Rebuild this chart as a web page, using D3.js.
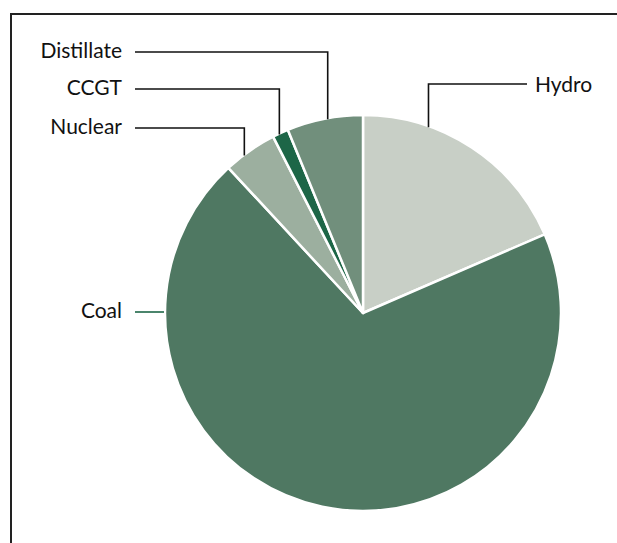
<!DOCTYPE html>
<html>
  <head>
    <meta charset="utf-8" />
    <script src="https://d3js.org/d3.v7.min.js"></script>
    <style>
      body { margin: 0; background: #fff; overflow: hidden; }
      text { font-family: Lato, "Open Sans", sans-serif; font-size: 21px; fill: #111; }
    </style>
  </head>
  <body>
    <div id="chart"></div>
    <script>
      // generation share, clockwise from 12 o'clock
      var sources = ["Hydro", "Coal", "Nuclear", "CCGT", "Distillate"];
      var shares = [18.5, 69.6, 4.4, 1.3, 6.2];
      var colours = ["#c8cfc6", "#4f7862", "#9caf9f", "#1d6647", "#718f7c"];

      var width = 617;
      var height = 543;
      var cx = 363, cy = 313, r = 198;

      var svg = d3
        .select("#chart")
        .append("svg")
        .attr("width", width)
        .attr("height", height)
        .style("display", "block");

      // frame: only the top and left edges are inside the picture
      svg.append("path")
        .attr("d", "M11," + (height + 5) + "V14H" + (width + 5))
        .attr("fill", "none")
        .attr("stroke", "#222")
        .attr("stroke-width", 2);

      var data = sources.map(function (s, i) {
        return { name: s, value: shares[i], colour: colours[i] };
      });

      var pie = d3.pie().sort(null).value(function (d) { return d.value; });
      var arc = d3.arc().innerRadius(0).outerRadius(r);
      var arcs = pie(data);

      var g = svg.append("g").attr("transform", "translate(" + cx + "," + cy + ")");

      g.selectAll("path")
        .data(arcs)
        .enter()
        .append("path")
        .attr("d", arc)
        .attr("fill", function (d) { return d.data.colour; })
        .attr("stroke", "#fff")
        .attr("stroke-width", 2.5)
        .attr("stroke-linejoin", "round");

      // leader lines: point on rim at a fraction through the slice, then elbow to label
      function rimPoint(a, t) {
        var ang = a.startAngle + (a.endAngle - a.startAngle) * t;
        return [cx + r * Math.sin(ang), cy - r * Math.cos(ang)];
      }

      var labelY = { Distillate: 52, CCGT: 89, Nuclear: 128, Coal: 312, Hydro: 84 };
      var labelT = { Distillate: 0.54, CCGT: 0.43, Nuclear: 0.38, Hydro: 0.29 };

      arcs.forEach(function (a) {
        var name = a.data.name;
        var y = labelY[name];
        var pts;
        var lineColour = "#111";
        if (name === "Coal") {
          pts = [[135, y], [cx - r - 1, y]];
          lineColour = "#1d6647";
        } else if (name === "Hydro") {
          var p = rimPoint(a, labelT[name]);
          pts = [[p[0], p[1] + 1], [p[0], y], [527, y]];
        } else {
          var q = rimPoint(a, labelT[name]);
          pts = [[135, y], [q[0], y], [q[0], q[1] + 1]];
        }
        svg.append("path")
          .attr("d", d3.line()(pts))
          .attr("fill", "none")
          .attr("stroke", lineColour)
          .attr("stroke-width", 1.6);

        svg.append("text")
          .attr("x", name === "Hydro" ? 535 : 122)
          .attr("y", y)
          .attr("dy", name === "Hydro" ? "0.36em" : "0.3em")
          .attr("text-anchor", name === "Hydro" ? "start" : "end")
          .text(name);
      });
    </script>
  </body>
</html>
